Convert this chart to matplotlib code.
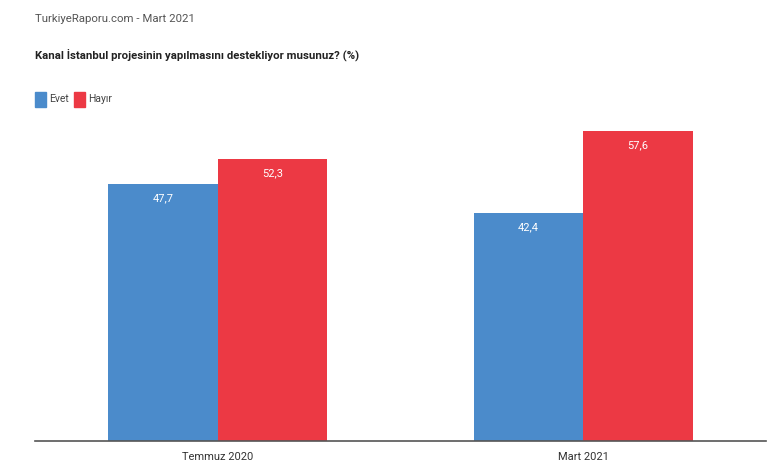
import numpy as np
import matplotlib.pyplot as plt
from matplotlib.patches import Rectangle

categories = ["Temmuz 2020", "Mart 2021"]
evet = [47.7, 42.4]
hayir = [52.3, 57.6]
series_names = ["Evet", "Hayır"]

blue = "#4b8bcb"
red = "#ec3944"

plt.rcParams['font.family'] = ['Roboto', 'DejaVu Sans']

fig = plt.figure(figsize=(7.8, 4.7), dpi=100)
ax = fig.add_axes([35/780, 29/470, 731/780, 323/470])

x = np.arange(len(categories))
w = 0.3
b1 = ax.bar(x - w/2, evet, w, color=blue)
b2 = ax.bar(x + w/2, hayir, w, color=red)

for bars, vals in ((b1, evet), (b2, hayir)):
    for r, v in zip(bars, vals):
        ax.text(r.get_x() + r.get_width()/2, v - 2.6, f"{v:.1f}".replace(".", ","),
                ha="center", va="center", color="white", fontsize=8)

ax.set_xlim(-0.5, 1.5)
ax.set_ylim(0, 60)
ax.set_xticks(x)
ax.set_xticklabels(categories, fontsize=8, color="#333333")
ax.tick_params(axis="x", length=0, pad=8)
ax.set_yticks([])
for s in ("top", "right", "left"):
    ax.spines[s].set_visible(False)
ax.spines["bottom"].set_color("#555555")
ax.spines["bottom"].set_linewidth(1.2)

fig.text(35/780, 1 - 19/470, "TurkiyeRaporu.com - Mart 2021", fontsize=8.2,
         color="#555555", va="center")
fig.text(35/780, 1 - 55/470, "Kanal İstanbul projesinin yapılmasını destekliyor musunuz? (%)",
         fontsize=8.2, color="#222222", va="center", fontweight="bold")

# legend
for i, (name, c) in enumerate(zip(series_names, [blue, red])):
    x0 = [35, 74][i]
    fig.patches.append(Rectangle((x0/780, 1 - 107/470), 11/780, 15/470,
                                 transform=fig.transFigure, color=c))
    fig.text((x0 + 14)/780, 1 - 99/470, name, fontsize=7.5, color="#444444", va="center")

fig.savefig("out.png", dpi=100)
